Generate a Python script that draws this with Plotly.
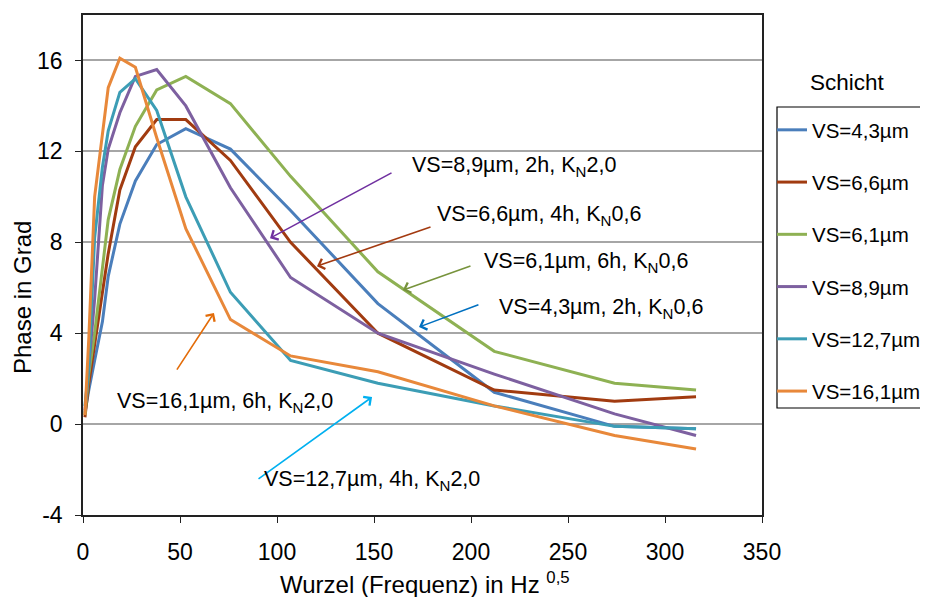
import plotly.graph_objects as go

# sqrt(frequency) positions
x_vals = [1, 3, 6, 10, 13, 19, 27, 38, 53, 76, 107, 152, 212, 274, 316]

series_names = ["VS=4,3µm", "VS=6,6µm", "VS=6,1µm", "VS=8,9µm", "VS=12,7µm", "VS=16,1µm"]
vs_4_3 = [0.5, 1.5, 2.8, 4.5, 6.5, 8.8, 10.7, 12.3, 13.0, 12.1, 9.4, 5.3, 1.4, -0.1, -0.2]
vs_6_6 = [0.3, 1.8, 3.5, 5.8, 7.5, 10.3, 12.2, 13.4, 13.4, 11.6, 8.0, 4.0, 1.5, 1.0, 1.2]
vs_6_1 = [0.4, 2.2, 4.0, 6.8, 9.0, 11.2, 13.1, 14.7, 15.3, 14.1, 10.9, 6.7, 3.2, 1.8, 1.5]
vs_8_9 = [0.6, 2.5, 5.5, 10.5, 12.1, 13.7, 15.3, 15.6, 14.0, 10.4, 6.45, 4.0, 2.2, 0.45, -0.5]
vs_12_7 = [0.8, 2.5, 8.2, 11.3, 12.9, 14.6, 15.2, 13.8, 10.0, 5.8, 2.8, 1.8, 0.8, -0.1, -0.2]
vs_16_1 = [0.4, 3.8, 10.0, 12.6, 14.8, 16.1, 15.7, 12.6, 8.6, 4.6, 3.0, 2.3, 0.8, -0.5, -1.1]
series_values = [vs_4_3, vs_6_6, vs_6_1, vs_8_9, vs_12_7, vs_16_1]
series_colors = ["#4A7EBB", "#A13B10", "#8EB153", "#7D60A0", "#3C9DB5", "#E8883A"]

y_ticks = [-4, 0, 4, 8, 12, 16]
x_ticks = [0, 50, 100, 150, 200, 250, 300, 350]

FONT = "Arial, Liberation Sans, sans-serif"

fig = go.Figure()
for i, (name, vals, col) in enumerate(zip(series_names, series_values, series_colors)):
    fig.add_trace(go.Scatter(
        x=x_vals, y=vals, mode="lines", name=name,
        line=dict(color=col, width=3), legendgroup=f"g{i}",
    ))

# page geometry (the html body adds an 8px offset on each side)
OFF = 8
L, R, T, B = 83, 762, 15, 515          # plot area in page pixels
W, H = 928 - OFF, 605 - 2 * OFF        # figure size (fits the window)

def px(xp):
    return (xp - L) / (R - L)

def py(yp):
    return (B - yp) / (B - T)

# arrows: (head_x, head_y, tail_x, tail_y, color) in data coords
arrows = [
    (96.4, 8.18, 159.8, 11.09, "#7030A0"),
    (120.6, 6.95, 179.9, 8.69, "#A33A10"),
    (164.9, 5.90, 200.5, 6.98, "#77933C"),
    (173.2, 4.27, 204.6, 5.28, "#0070C0"),
    (67.5, 4.89, 47.9, 2.33, "#E36C09"),
    (149.0, 1.19, 89.7, -2.46, "#00B0F0"),
]
annotations = []
for hx, hy, tx, ty, c in arrows:
    annotations.append(dict(
        x=hx, y=hy, ax=tx, ay=ty, xref="x", yref="y", axref="x", ayref="y",
        text="", showarrow=True, arrowhead=4, arrowsize=1.3, arrowwidth=1.6,
        arrowcolor=c,
    ))

labels = [
    ("VS=8,9µm, 2h, K<sub>N</sub>2,0", 410, 166),
    ("VS=6,6µm, 4h, K<sub>N</sub>0,6", 435, 215),
    ("VS=6,1µm, 6h, K<sub>N</sub>0,6", 482, 262),
    ("VS=4,3µm, 2h, K<sub>N</sub>0,6", 497, 308),
    ("VS=16,1µm, 6h, K<sub>N</sub>2,0", 115, 402),
    ("VS=12,7µm, 4h, K<sub>N</sub>2,0", 262, 481),
]
for t, xp_, yp_ in labels:
    annotations.append(dict(
        x=px(xp_), y=py(yp_), xref="paper", yref="paper", text=t,
        showarrow=False, xanchor="left", yanchor="middle",
        font=dict(family=FONT, size=21.5, color="#000000"),
    ))

# axis titles and legend title
annotations.append(dict(
    x=px(425), y=py(583), xref="paper", yref="paper",
    text="Wurzel (Frequenz) in Hz <sup>0,5</sup>", showarrow=False,
    xanchor="center", yanchor="middle",
    font=dict(family=FONT, size=24, color="#000000"),
))
annotations.append(dict(
    x=px(22), y=py(298), xref="paper", yref="paper",
    text="Phase in Grad", showarrow=False, textangle=-90,
    xanchor="center", yanchor="middle",
    font=dict(family=FONT, size=24, color="#000000"),
))
annotations.append(dict(
    x=px(847), y=py(82), xref="paper", yref="paper",
    text="Schicht", showarrow=False, xanchor="center", yanchor="middle",
    font=dict(family=FONT, size=22.5, color="#000000"),
))

shapes = [dict(
    type="rect", xref="paper", yref="paper",
    x0=px(777), x1=px(940), y0=py(408), y1=py(107),
    line=dict(color="#000000", width=1.2), fillcolor="rgba(0,0,0,0)",
)]

fig.update_layout(
    width=W, height=H,
    margin=dict(l=L - OFF, r=W - (R - OFF), t=T - OFF, b=H - (B - OFF), autoexpand=False),
    paper_bgcolor="white", plot_bgcolor="white",
    font=dict(family=FONT, size=18, color="#000000"),
    showlegend=True,
    legend=dict(
        x=px(772), y=py(110), xanchor="left", yanchor="top",
        font=dict(family=FONT, size=20.5, color="#000000"),
        bgcolor="rgba(0,0,0,0)", borderwidth=0,
        tracegroupgap=22.6, traceorder="grouped", itemwidth=30,
    ),
    annotations=annotations,
    shapes=shapes,
    xaxis=dict(
        range=[0, 350], tickvals=x_ticks, ticktext=[str(v) for v in x_ticks],
        showgrid=False, zeroline=False,
        showline=True, linecolor="#222222", linewidth=1.5, mirror=True,
        ticks="outside", ticklen=6, tickcolor="#222222", tickwidth=1.2,
        tickfont=dict(family=FONT, size=23, color="#000000"),
        ticklabelstandoff=10,
    ),
    yaxis=dict(
        range=[-4, 18], tickvals=y_ticks, ticktext=[str(v) for v in y_ticks],
        showgrid=True, gridcolor="#A6A6A6", gridwidth=1.5, zeroline=False,
        showline=True, linecolor="#222222", linewidth=1.5, mirror=True,
        ticks="outside", ticklen=6, tickcolor="#222222", tickwidth=1.2,
        tickfont=dict(family=FONT, size=23, color="#000000"),
        ticklabelstandoff=8,
    ),
)

fig.write_html("out.html")
